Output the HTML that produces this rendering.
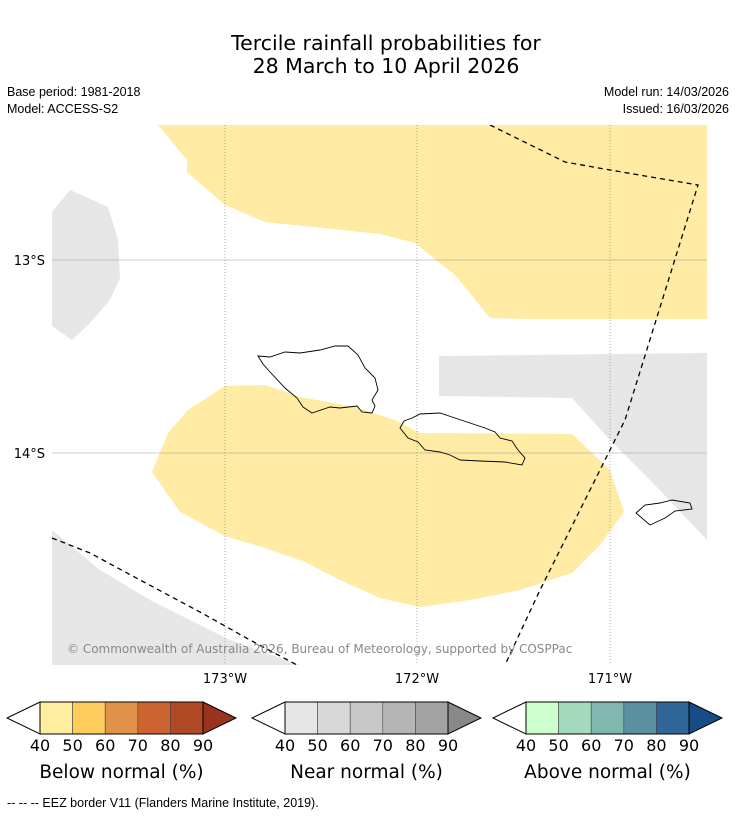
<!DOCTYPE html>
<html><head><meta charset="utf-8"><style>
body{margin:0;background:#fff;font-family:"DejaVu Sans","Liberation Sans",sans-serif;}
svg{display:block}
</style></head><body>
<svg width="736" height="816" viewBox="0 0 736 816">
<text x="386" y="50" text-anchor="middle" font-size="20.5">Tercile rainfall probabilities for</text>
<text x="386" y="73" text-anchor="middle" font-size="20.5">28 March to 10 April 2026</text>
<g font-family="Liberation Sans, sans-serif" font-size="12.5">
<text x="7" y="96">Base period: 1981-2018</text>
<text x="7" y="113">Model: ACCESS-S2</text>
<text x="729" y="96" text-anchor="end">Model run: 14/03/2026</text>
<text x="729" y="113" text-anchor="end">Issued: 16/03/2026</text>
</g>
<g>
<clipPath id="mc"><rect x="52" y="125" width="655" height="540"/></clipPath>
<g clip-path="url(#mc)">
<polygon fill="#ffeba4" points="158,125 187,160 187,172 225,205 265,222 380,234 415,243 455,275 490,318 525,319 707,319 707,125"/>
<polygon fill="#ffeba4" points="152,472 168,433 188,410 225,386 265,385 300,397 355,407 395,420 420,433 572,434 610,470 624,512 600,545 572,573 520,590 470,600 420,607 380,598 340,580 305,562 265,548 225,536 180,512"/>
<polygon fill="#e6e6e6" points="52,212 70,190 108,207 118,240 120,278 110,300 90,323 72,340 52,326"/>
<polygon fill="#e6e6e6" points="439,356 707,353 707,540 650,480 610,440 572,398 439,396"/>
<polygon fill="#e6e6e6" points="52,530 52,665 300,665 230,640 150,600 100,570"/>
<g stroke-width="0.6">
<line x1="52" y1="260" x2="707" y2="260" stroke="#999"/>
<line x1="52" y1="453" x2="707" y2="453" stroke="#999"/>
<line x1="225" y1="125" x2="225" y2="665" stroke="#777" stroke-dasharray="1,2"/>
<line x1="417" y1="125" x2="417" y2="665" stroke="#777" stroke-dasharray="1,2"/>
<line x1="610" y1="125" x2="610" y2="665" stroke="#777" stroke-dasharray="1,2"/>
</g>
<polyline fill="none" stroke="#000" stroke-width="1.3" stroke-dasharray="5,4" points="490,125 565,162 610,170 698,185 625,420 580,510 540,590 505,665"/>
<polyline fill="none" stroke="#000" stroke-width="1.3" stroke-dasharray="5,4" points="52,538 90,553 140,580 200,612 250,640 297,665"/>
<polygon fill="none" stroke="#000" stroke-width="0.9" points="258,356 270,357 285,352 300,353 320,350 335,346 348,346 358,355 365,368 375,378 378,390 372,400 375,406 372,413 362,412 357,406 340,408 330,407 312,413 303,407 297,398 285,388 270,372 263,364"/>
<polygon fill="none" stroke="#000" stroke-width="0.9" points="400,428 404,421 412,418 420,414 440,413 452,417 470,423 485,428 495,432 500,438 512,441 518,450 525,458 522,465 505,462 480,461 460,460 450,455 440,452 425,450 418,442 408,438"/>
<polygon fill="none" stroke="#000" stroke-width="0.9" points="636,513 645,505 660,503 672,500 690,503 692,509 675,511 665,518 650,525"/>
</g>
<text x="67" y="653" font-size="12" fill="#888">© Commonwealth of Australia 2026, Bureau of Meteorology, supported by COSPPac</text>
<text x="225" y="683" font-size="13" text-anchor="middle">173°W</text>
<text x="417" y="683" font-size="13" text-anchor="middle">172°W</text>
<text x="610" y="683" font-size="13" text-anchor="middle">171°W</text>
<text x="45" y="265" font-size="13" text-anchor="end">13°S</text>
<text x="45" y="458" font-size="13" text-anchor="end">14°S</text>
</g>
<g id="bars"></g>
<text x="7" y="807" font-size="12.5" font-family="Liberation Sans, sans-serif">--  --  -- EEZ border V11 (Flanders Marine Institute, 2019).</text>
</svg>
<script>
const ticks=["40","50","60","70","80","90"];
const belowColors=["#ffeda0","#fecc5c","#e0924a","#cc6331","#b04a26","#98341e"];
const nearColors=["#e6e6e6","#d8d8d8","#c8c8c8","#b5b5b5","#a3a3a3","#888888"];
const aboveColors=["#ccffcc","#a3d9bc","#80b8b0","#5a90a0","#306698","#174d87"];
const barTitles=["Below normal (%)","Near normal (%)","Above normal (%)"];
const ns="http://www.w3.org/2000/svg";
const g=document.getElementById('bars');
const starts=[40,285,526];
const sets=[belowColors,nearColors,aboveColors];
const W=32.6,y0=702,h=32;
function mk(t,a){const e=document.createElementNS(ns,t);for(const k in a)e.setAttribute(k,a[k]);return e;}
sets.forEach((cols,i)=>{
 const x0=starts[i];const xe=x0+W*(ticks.length-1);
 const grp=mk('g',{});
 
 
 const lt=mk('polygon',{points:`${x0},${y0} ${x0-33},${y0+h/2} ${x0},${y0+h}`,fill:'#fff',stroke:'#000','stroke-width':1});
 
 
 grp.appendChild(lt);
 for(let k=0;k<ticks.length-1;k++){
  const r=mk('rect',{x:x0+k*W,y:y0,width:W,height:h,fill:cols[k],stroke:'#444','stroke-width':0.6});
  
  
  grp.appendChild(r);
 }
 const rt=mk('polygon',{points:`${xe},${y0} ${xe+33},${y0+h/2} ${xe},${y0+h}`,fill:cols[5],stroke:'#000','stroke-width':1});
 
 
 grp.appendChild(rt);
 const ol=mk('rect',{x:x0,y:y0,width:xe-x0,height:h,fill:'none',stroke:'#000','stroke-width':1});
 grp.appendChild(ol);
 ticks.forEach((t,k)=>{
  const tx=mk('text',{x:x0+k*W,y:751,'font-size':16,'text-anchor':'middle'});
  
  
  tx.textContent=t;grp.appendChild(tx);
 });
 const tt=mk('text',{x:(x0+xe)/2,y:778,'font-size':18.5,'text-anchor':'middle'});
 
 
 tt.textContent=barTitles[i];grp.appendChild(tt);
 g.appendChild(grp);
});
</script>
</body></html>
